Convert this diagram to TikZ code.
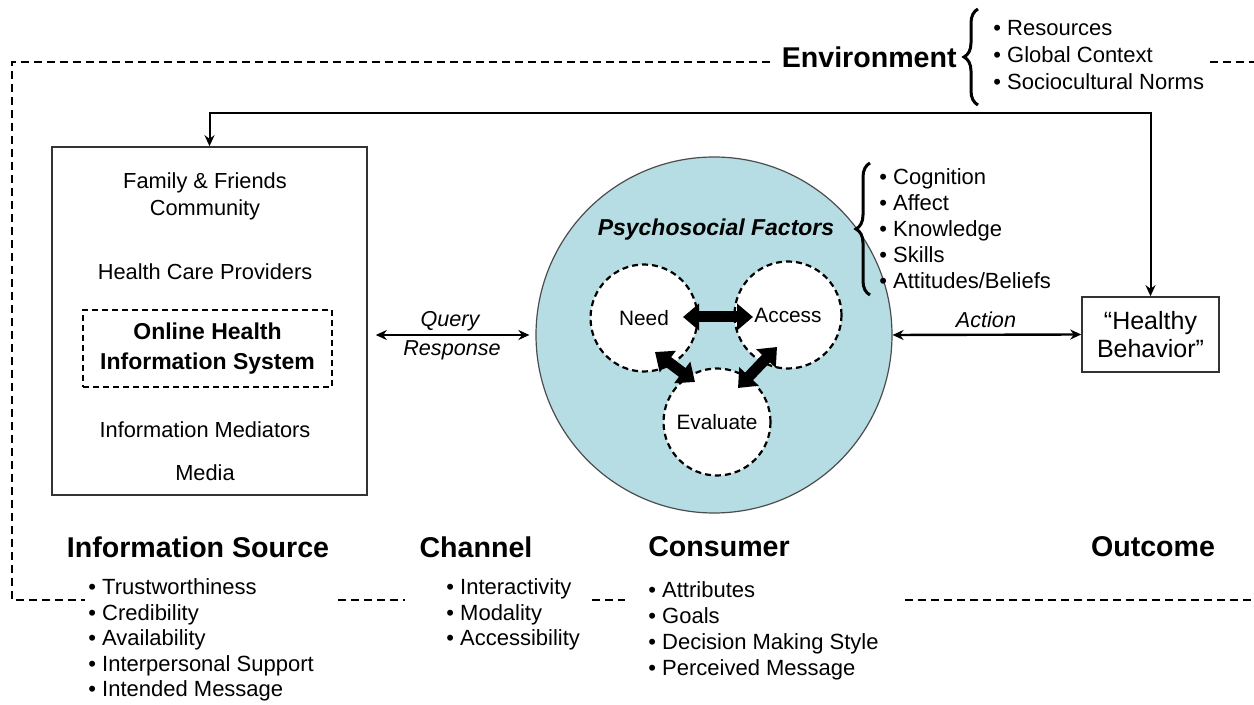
\documentclass[tikz,border=0pt]{standalone}
\usepackage{fontspec}
\setmainfont{Liberation Sans}
\usepackage{tikz}
\usetikzlibrary{positioning, arrows.meta, decorations.pathreplacing, backgrounds}
\definecolor{psyblue}{RGB}{182,221,227}
\tikzstyle{txt}=[inner sep=0pt, font=\fontsize{10.9}{13}\selectfont]
\tikzstyle{heading}=[inner sep=0pt, font=\fontsize{14.3}{16}\selectfont\bfseries]
\tikzstyle{item}=[inner sep=0pt, anchor=base west, font=\fontsize{11}{13}\selectfont]
\tikzstyle{lbl}=[inner sep=0pt, font=\fontsize{10.8}{13}\selectfont\itshape]
\tikzstyle{env}=[line width=1.4pt, dash pattern=on 4pt off 2.5pt]
\tikzstyle{sub}=[draw, circle, fill=white, line width=1.1pt, dash pattern=on 3pt off 2pt, minimum size=53.5pt, inner sep=0pt, font=\fontsize{10.4}{12}\selectfont]
\tikzstyle{fat}=[line width=5.5pt, {Triangle[width=13pt,length=8pt]}-{Triangle[width=13pt,length=8pt]}]
\tikzstyle{brc}=[decorate, decoration={brace, amplitude=7pt}, line width=1.5pt]
\tikzset{>={Stealth[length=5.5pt,width=5pt]}}

\begin{document}
\begin{tikzpicture}[x=0.5pt, y=-0.5pt]
\useasboundingbox (0,0) rectangle (1254,705);

% environment frame
\draw[env] (770,62) -- (12,62) -- (12,600) -- (85,600);
\draw[env] (338,600) -- (405,600);
\draw[env] (592,600) -- (625,600);
\draw[env] (905,600) -- (1254,600);
\draw[env] (1210,62) -- (1254,62);

\node[heading, anchor=east] (E) at (957,57) {Environment};
\draw[brc] (978,105) -- (978,9);
\foreach \t [count=\i] in {Resources, Global Context, Sociocultural Norms}
  \node[item] (env\i) at (993, {36+27*(\i-1)}) {\textbullet\ \t};

% information source
\node[draw=black!80, line width=0.8pt, minimum width=157.5pt, minimum height=174pt] (src) at (209.5,321) {};
\node[txt] (fam) at (205,183) {Family \& Friends};
\node[txt] (com) at (205,210) {Community};
\node[txt] (hcp) at (205,272) {Health Care Providers};
\node[draw, line width=1.1pt, dash pattern=on 3pt off 2pt, minimum width=124.5pt, minimum height=38.5pt, align=center, font=\fontsize{11.5}{15}\selectfont\bfseries] (ohis) at (207.5,348.5) {Online Health\\Information System};
\node[txt] (med) at (205,430) {Information Mediators};
\node[txt] (mda) at (205,473) {Media};

% consumer
\node[circle, draw=black!70, line width=0.6pt, fill=psyblue, minimum size=178pt, inner sep=0pt] (circ) at (714,335) {};
\node[inner sep=0pt, font=\fontsize{11.5}{14}\selectfont\bfseries\itshape] (psy) at (716,230) {Psychosocial Factors};
\node[sub] (need) at (644,318) {Need};
\node[sub] (acc) at (788,315) {Access};
\node[sub] (eval) at (717,422) {Evaluate};
\draw[fat] ([shift={(39,-1)}]need.center) -- ([shift={(-35,2)}]acc.center);
\draw[fat] ([shift={(11,34)}]need.center) -- ([shift={(-22,-40)}]eval.center);
\draw[fat] ([shift={(-11,32)}]acc.center) -- ([shift={(21,-34)}]eval.center);

\draw[brc] (870,295) -- (870,163);
\foreach \t [count=\i] in {Cognition, Affect, Knowledge, Skills, Attitudes/Beliefs}
  \node[item] (psy\i) at (879, {185+25.8*(\i-1)}) {\textbullet\ \t};

% outcome
\node[draw=black!80, line width=0.8pt, minimum width=68.5pt, minimum height=37.5pt, align=center, font=\fontsize{12.5}{14}\selectfont] (hb) at (1150.5,334.5) {“Healthy\\Behavior”};

\draw[<->, line width=1.2pt, shorten <=4pt, shorten >=3pt] (src.east |- circ.west) -- (circ.west);
\node[lbl] (qry) at (450,321) {Query};
\node[lbl] (rsp) at (452,350) {Response};
\draw[<->, line width=1.2pt] (circ.east) -- (hb.west);
\node[lbl] (act) at (986,320) {Action};

\coordinate (fb) at (700,113);
\draw[<->, line width=1pt] (hb.north) |- (fb) -| (src.north);

% bottom labels
\node[heading] (isrc) at (198,547) {Information Source};
\node[heading] (chn) at (476,547) {Channel};
\node[heading] (cns) at (719,547) {Consumer};
\node[heading] (out) at (1153,547) {Outcome};

\foreach \t [count=\i] in {Trustworthiness, Credibility, Availability, Interpersonal Support, Intended Message}
  \node[item] (is\i) at (88, {595+25.5*(\i-1)}) {\textbullet\ \t};
\foreach \t [count=\i] in {Interactivity, Modality, Accessibility}
  \node[item] (ch\i) at (446, {595+25.5*(\i-1)}) {\textbullet\ \t};
\foreach \t [count=\i] in {Attributes, Goals, Decision Making Style, Perceived Message}
  \node[item] (cs\i) at (648, {598+25.7*(\i-1)}) {\textbullet\ \t};
\end{tikzpicture}
\end{document}
